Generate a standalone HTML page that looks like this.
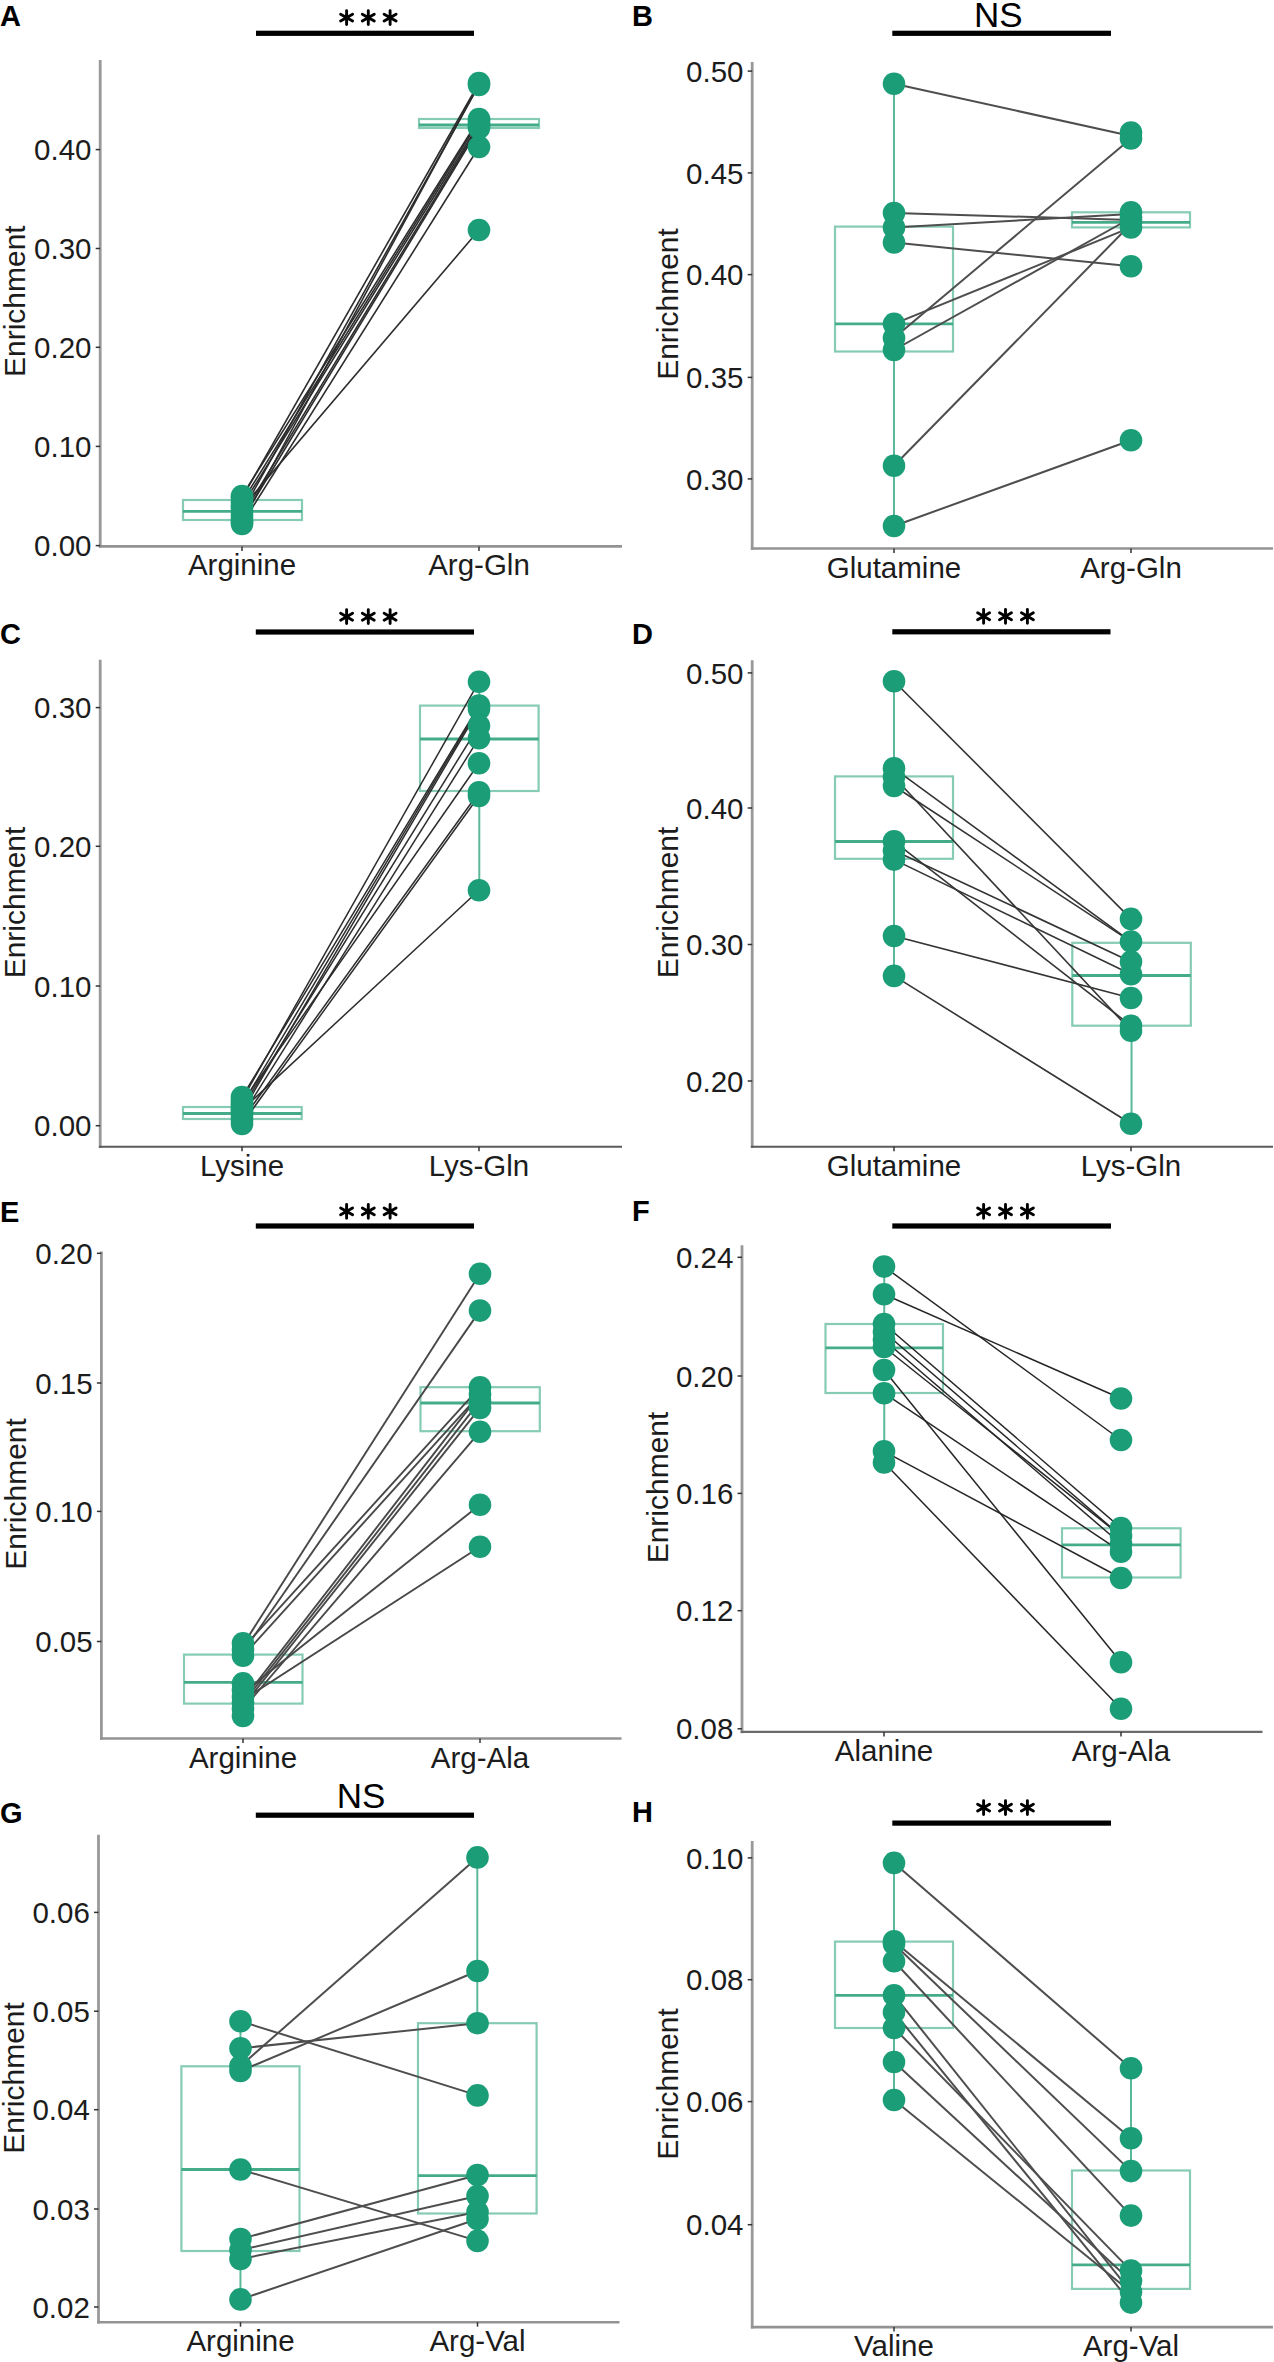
<!DOCTYPE html>
<html><head><meta charset="utf-8"><style>
html,body{margin:0;padding:0;background:#fff;overflow:hidden;}
svg{display:block;}
text{font-family:"Liberation Sans",sans-serif;fill:#1c1c1c;}
.lt{font-weight:bold;font-size:29px;fill:#000;}
.tk{font-size:29.5px;}
.tt{font-size:30px;}
.ns{font-size:35px;fill:#000;}
</style></head><body>
<svg width="1274" height="2362" viewBox="0 0 1274 2362">
<rect width="1274" height="2362" fill="#fff"/>
<text x="0" y="26" class="lt">A</text>
<rect x="256" y="30.699999999999996" width="218" height="5.2" fill="#000"/>
<path d="M346.60 10.70L346.60 24.50M340.62 14.15L352.58 21.05M340.62 21.05L352.58 14.15" stroke="#000" stroke-width="2.9" stroke-linecap="round" fill="none"/>
<path d="M368.30 10.70L368.30 24.50M362.32 14.15L374.28 21.05M362.32 21.05L374.28 14.15" stroke="#000" stroke-width="2.9" stroke-linecap="round" fill="none"/>
<path d="M390.10 10.70L390.10 24.50M384.12 14.15L396.08 21.05M384.12 21.05L396.08 14.15" stroke="#000" stroke-width="2.9" stroke-linecap="round" fill="none"/>
<rect x="183" y="500" width="119" height="20" fill="none" stroke="#86cbb5" stroke-width="2.2"/>
<line x1="183" y1="511.3" x2="302" y2="511.3" stroke="#45ac8a" stroke-width="2.8"/>
<rect x="419" y="119" width="120" height="9" fill="none" stroke="#86cbb5" stroke-width="2.2"/>
<line x1="419" y1="125" x2="539" y2="125" stroke="#45ac8a" stroke-width="2.8"/>
<line x1="100.2" y1="60" x2="100.2" y2="547.6999999999999" stroke="#999" stroke-width="2.8"/>
<line x1="98.9" y1="546.4" x2="622" y2="546.4" stroke="#939393" stroke-width="2.6"/>
<line x1="95.7" y1="545.6" x2="100.2" y2="545.6" stroke="#333" stroke-width="1.5"/>
<text x="91.5" y="556.2" class="tk" text-anchor="end">0.00</text>
<line x1="95.7" y1="446.4" x2="100.2" y2="446.4" stroke="#333" stroke-width="1.5"/>
<text x="91.5" y="457.0" class="tk" text-anchor="end">0.10</text>
<line x1="95.7" y1="347.3" x2="100.2" y2="347.3" stroke="#333" stroke-width="1.5"/>
<text x="91.5" y="357.90000000000003" class="tk" text-anchor="end">0.20</text>
<line x1="95.7" y1="248.5" x2="100.2" y2="248.5" stroke="#333" stroke-width="1.5"/>
<text x="91.5" y="259.1" class="tk" text-anchor="end">0.30</text>
<line x1="95.7" y1="149.6" x2="100.2" y2="149.6" stroke="#333" stroke-width="1.5"/>
<text x="91.5" y="160.2" class="tk" text-anchor="end">0.40</text>
<text transform="translate(25,301.2) rotate(-90)" class="tt" text-anchor="middle">Enrichment</text>
<line x1="242" y1="546.4" x2="242" y2="550.9" stroke="#333" stroke-width="1.5"/>
<text x="242" y="575.4" class="tk" text-anchor="middle">Arginine</text>
<line x1="479" y1="546.4" x2="479" y2="550.9" stroke="#333" stroke-width="1.5"/>
<text x="479" y="575.4" class="tk" text-anchor="middle">Arg-Gln</text>
<line x1="242" y1="498" x2="479" y2="83" stroke="#2c2c2c" stroke-width="1.6"/>
<line x1="242" y1="512" x2="479" y2="85" stroke="#2c2c2c" stroke-width="1.6"/>
<line x1="242" y1="522" x2="479" y2="84" stroke="#2c2c2c" stroke-width="1.6"/>
<line x1="242" y1="496" x2="479" y2="119" stroke="#2c2c2c" stroke-width="1.6"/>
<line x1="242" y1="502" x2="479" y2="121" stroke="#2c2c2c" stroke-width="1.6"/>
<line x1="242" y1="506" x2="479" y2="124" stroke="#2c2c2c" stroke-width="1.6"/>
<line x1="242" y1="516" x2="479" y2="126" stroke="#2c2c2c" stroke-width="1.6"/>
<line x1="242" y1="520" x2="479" y2="128" stroke="#2c2c2c" stroke-width="1.6"/>
<line x1="242" y1="524" x2="479" y2="147" stroke="#2c2c2c" stroke-width="1.6"/>
<line x1="242" y1="508" x2="479" y2="230" stroke="#2c2c2c" stroke-width="1.6"/>
<circle cx="242" cy="496" r="11.3" fill="#1B9E77"/>
<circle cx="242" cy="498" r="11.3" fill="#1B9E77"/>
<circle cx="242" cy="502" r="11.3" fill="#1B9E77"/>
<circle cx="242" cy="506" r="11.3" fill="#1B9E77"/>
<circle cx="242" cy="508" r="11.3" fill="#1B9E77"/>
<circle cx="242" cy="512" r="11.3" fill="#1B9E77"/>
<circle cx="242" cy="516" r="11.3" fill="#1B9E77"/>
<circle cx="242" cy="520" r="11.3" fill="#1B9E77"/>
<circle cx="242" cy="522" r="11.3" fill="#1B9E77"/>
<circle cx="242" cy="524" r="11.3" fill="#1B9E77"/>
<circle cx="479" cy="83" r="11.3" fill="#1B9E77"/>
<circle cx="479" cy="85" r="11.3" fill="#1B9E77"/>
<circle cx="479" cy="119" r="11.3" fill="#1B9E77"/>
<circle cx="479" cy="121" r="11.3" fill="#1B9E77"/>
<circle cx="479" cy="124" r="11.3" fill="#1B9E77"/>
<circle cx="479" cy="126" r="11.3" fill="#1B9E77"/>
<circle cx="479" cy="128" r="11.3" fill="#1B9E77"/>
<circle cx="479" cy="147" r="11.3" fill="#1B9E77"/>
<circle cx="479" cy="230" r="11.3" fill="#1B9E77"/>
<text x="632" y="25.7" class="lt">B</text>
<rect x="892.3" y="30.699999999999996" width="218.70000000000005" height="5.2" fill="#000"/>
<text x="998.2" y="27.3" class="ns" text-anchor="middle">NS</text>
<line x1="894.0" y1="83.7" x2="894.0" y2="226.6" stroke="#5bb89a" stroke-width="2"/>
<line x1="894.0" y1="351.5" x2="894.0" y2="526" stroke="#5bb89a" stroke-width="2"/>
<rect x="835" y="226.6" width="118" height="124.9" fill="none" stroke="#86cbb5" stroke-width="2.2"/>
<line x1="835" y1="323.9" x2="953" y2="323.9" stroke="#45ac8a" stroke-width="2.8"/>
<rect x="1072" y="212.3" width="118" height="15.099999999999994" fill="none" stroke="#86cbb5" stroke-width="2.2"/>
<line x1="1072" y1="222.4" x2="1190" y2="222.4" stroke="#45ac8a" stroke-width="2.8"/>
<line x1="752.2" y1="62" x2="752.2" y2="549.8" stroke="#999" stroke-width="2.8"/>
<line x1="750.9000000000001" y1="548.5" x2="1273" y2="548.5" stroke="#939393" stroke-width="2.6"/>
<line x1="747.7" y1="478.9" x2="752.2" y2="478.9" stroke="#333" stroke-width="1.5"/>
<text x="743.5" y="489.5" class="tk" text-anchor="end">0.30</text>
<line x1="747.7" y1="377.4" x2="752.2" y2="377.4" stroke="#333" stroke-width="1.5"/>
<text x="743.5" y="388.0" class="tk" text-anchor="end">0.35</text>
<line x1="747.7" y1="274.6" x2="752.2" y2="274.6" stroke="#333" stroke-width="1.5"/>
<text x="743.5" y="285.20000000000005" class="tk" text-anchor="end">0.40</text>
<line x1="747.7" y1="172.9" x2="752.2" y2="172.9" stroke="#333" stroke-width="1.5"/>
<text x="743.5" y="183.5" class="tk" text-anchor="end">0.45</text>
<line x1="747.7" y1="71.1" x2="752.2" y2="71.1" stroke="#333" stroke-width="1.5"/>
<text x="743.5" y="81.69999999999999" class="tk" text-anchor="end">0.50</text>
<text transform="translate(678,304) rotate(-90)" class="tt" text-anchor="middle">Enrichment</text>
<line x1="894" y1="548.5" x2="894" y2="553.0" stroke="#333" stroke-width="1.5"/>
<text x="894" y="577.5" class="tk" text-anchor="middle">Glutamine</text>
<line x1="1131" y1="548.5" x2="1131" y2="553.0" stroke="#333" stroke-width="1.5"/>
<text x="1131" y="577.5" class="tk" text-anchor="middle">Arg-Gln</text>
<line x1="894" y1="83.7" x2="1131" y2="136" stroke="#4e4e4e" stroke-width="2.0"/>
<line x1="894" y1="213" x2="1131" y2="220" stroke="#4e4e4e" stroke-width="2.0"/>
<line x1="894" y1="227.4" x2="1131" y2="214" stroke="#4e4e4e" stroke-width="2.0"/>
<line x1="894" y1="242.5" x2="1131" y2="266.3" stroke="#4e4e4e" stroke-width="2.0"/>
<line x1="894" y1="323.9" x2="1131" y2="227.4" stroke="#4e4e4e" stroke-width="2.0"/>
<line x1="894" y1="338" x2="1131" y2="138.5" stroke="#4e4e4e" stroke-width="2.0"/>
<line x1="894" y1="350" x2="1131" y2="218" stroke="#4e4e4e" stroke-width="2.0"/>
<line x1="894" y1="465.8" x2="1131" y2="224" stroke="#4e4e4e" stroke-width="2.0"/>
<line x1="894" y1="526" x2="1131" y2="440.2" stroke="#4e4e4e" stroke-width="2.0"/>
<circle cx="894" cy="83.7" r="11.3" fill="#1B9E77"/>
<circle cx="894" cy="213" r="11.3" fill="#1B9E77"/>
<circle cx="894" cy="227.4" r="11.3" fill="#1B9E77"/>
<circle cx="894" cy="242.5" r="11.3" fill="#1B9E77"/>
<circle cx="894" cy="323.9" r="11.3" fill="#1B9E77"/>
<circle cx="894" cy="338" r="11.3" fill="#1B9E77"/>
<circle cx="894" cy="350" r="11.3" fill="#1B9E77"/>
<circle cx="894" cy="465.8" r="11.3" fill="#1B9E77"/>
<circle cx="894" cy="526" r="11.3" fill="#1B9E77"/>
<circle cx="1131" cy="132.5" r="11.3" fill="#1B9E77"/>
<circle cx="1131" cy="138.5" r="11.3" fill="#1B9E77"/>
<circle cx="1131" cy="212.3" r="11.3" fill="#1B9E77"/>
<circle cx="1131" cy="218" r="11.3" fill="#1B9E77"/>
<circle cx="1131" cy="222" r="11.3" fill="#1B9E77"/>
<circle cx="1131" cy="227.4" r="11.3" fill="#1B9E77"/>
<circle cx="1131" cy="266.3" r="11.3" fill="#1B9E77"/>
<circle cx="1131" cy="440.2" r="11.3" fill="#1B9E77"/>
<text x="0" y="644" class="lt">C</text>
<rect x="255.8" y="629.4" width="218.2" height="5.2" fill="#000"/>
<path d="M346.60 609.80L346.60 623.60M340.62 613.25L352.58 620.15M340.62 620.15L352.58 613.25" stroke="#000" stroke-width="2.9" stroke-linecap="round" fill="none"/>
<path d="M368.30 609.80L368.30 623.60M362.32 613.25L374.28 620.15M362.32 620.15L374.28 613.25" stroke="#000" stroke-width="2.9" stroke-linecap="round" fill="none"/>
<path d="M390.10 609.80L390.10 623.60M384.12 613.25L396.08 620.15M384.12 620.15L396.08 613.25" stroke="#000" stroke-width="2.9" stroke-linecap="round" fill="none"/>
<rect x="183" y="1107" width="118.69999999999999" height="12" fill="none" stroke="#86cbb5" stroke-width="2.2"/>
<line x1="183" y1="1113.5" x2="301.7" y2="1113.5" stroke="#45ac8a" stroke-width="2.8"/>
<line x1="479.3" y1="681.7" x2="479.3" y2="705.6" stroke="#5bb89a" stroke-width="2"/>
<line x1="479.3" y1="791" x2="479.3" y2="890.2" stroke="#5bb89a" stroke-width="2"/>
<rect x="420" y="705.6" width="118.60000000000002" height="85.39999999999998" fill="none" stroke="#86cbb5" stroke-width="2.2"/>
<line x1="420" y1="739" x2="538.6" y2="739" stroke="#45ac8a" stroke-width="2.8"/>
<line x1="100.2" y1="659.8" x2="100.2" y2="1148.1" stroke="#999" stroke-width="2.8"/>
<line x1="98.9" y1="1146.8" x2="622" y2="1146.8" stroke="#5a5a5a" stroke-width="2.1"/>
<line x1="95.7" y1="1125.7" x2="100.2" y2="1125.7" stroke="#333" stroke-width="1.5"/>
<text x="91.5" y="1136.3" class="tk" text-anchor="end">0.00</text>
<line x1="95.7" y1="986" x2="100.2" y2="986" stroke="#333" stroke-width="1.5"/>
<text x="91.5" y="996.6" class="tk" text-anchor="end">0.10</text>
<line x1="95.7" y1="846.3" x2="100.2" y2="846.3" stroke="#333" stroke-width="1.5"/>
<text x="91.5" y="856.9" class="tk" text-anchor="end">0.20</text>
<line x1="95.7" y1="707.6" x2="100.2" y2="707.6" stroke="#333" stroke-width="1.5"/>
<text x="91.5" y="718.2" class="tk" text-anchor="end">0.30</text>
<text transform="translate(25,902.5) rotate(-90)" class="tt" text-anchor="middle">Enrichment</text>
<line x1="242" y1="1146.8" x2="242" y2="1151.3" stroke="#333" stroke-width="1.5"/>
<text x="242" y="1175.8" class="tk" text-anchor="middle">Lysine</text>
<line x1="479" y1="1146.8" x2="479" y2="1151.3" stroke="#333" stroke-width="1.5"/>
<text x="479" y="1175.8" class="tk" text-anchor="middle">Lys-Gln</text>
<line x1="242" y1="1100" x2="479" y2="681.7" stroke="#2c2c2c" stroke-width="1.5"/>
<line x1="242" y1="1097" x2="479" y2="705.6" stroke="#2c2c2c" stroke-width="1.5"/>
<line x1="242" y1="1105" x2="479" y2="707" stroke="#2c2c2c" stroke-width="1.5"/>
<line x1="242" y1="1112" x2="479" y2="709" stroke="#2c2c2c" stroke-width="1.5"/>
<line x1="242" y1="1108" x2="479" y2="725.7" stroke="#2c2c2c" stroke-width="1.5"/>
<line x1="242" y1="1116" x2="479" y2="738.2" stroke="#2c2c2c" stroke-width="1.5"/>
<line x1="242" y1="1103" x2="479" y2="763.3" stroke="#2c2c2c" stroke-width="1.5"/>
<line x1="242" y1="1120" x2="479" y2="792.2" stroke="#2c2c2c" stroke-width="1.5"/>
<line x1="242" y1="1124" x2="479" y2="796" stroke="#2c2c2c" stroke-width="1.5"/>
<line x1="242" y1="1110" x2="479" y2="890.2" stroke="#2c2c2c" stroke-width="1.5"/>
<circle cx="242" cy="1097" r="11.3" fill="#1B9E77"/>
<circle cx="242" cy="1100" r="11.3" fill="#1B9E77"/>
<circle cx="242" cy="1103" r="11.3" fill="#1B9E77"/>
<circle cx="242" cy="1105" r="11.3" fill="#1B9E77"/>
<circle cx="242" cy="1108" r="11.3" fill="#1B9E77"/>
<circle cx="242" cy="1110" r="11.3" fill="#1B9E77"/>
<circle cx="242" cy="1112" r="11.3" fill="#1B9E77"/>
<circle cx="242" cy="1116" r="11.3" fill="#1B9E77"/>
<circle cx="242" cy="1120" r="11.3" fill="#1B9E77"/>
<circle cx="242" cy="1124" r="11.3" fill="#1B9E77"/>
<circle cx="479" cy="681.7" r="11.3" fill="#1B9E77"/>
<circle cx="479" cy="705.6" r="11.3" fill="#1B9E77"/>
<circle cx="479" cy="709" r="11.3" fill="#1B9E77"/>
<circle cx="479" cy="725.7" r="11.3" fill="#1B9E77"/>
<circle cx="479" cy="738.2" r="11.3" fill="#1B9E77"/>
<circle cx="479" cy="763.3" r="11.3" fill="#1B9E77"/>
<circle cx="479" cy="792.2" r="11.3" fill="#1B9E77"/>
<circle cx="479" cy="796" r="11.3" fill="#1B9E77"/>
<circle cx="479" cy="890.2" r="11.3" fill="#1B9E77"/>
<text x="632" y="643.5" class="lt">D</text>
<rect x="892.3" y="629.1999999999999" width="218.20000000000005" height="5.2" fill="#000"/>
<path d="M983.60 609.40L983.60 623.20M977.62 612.85L989.58 619.75M977.62 619.75L989.58 612.85" stroke="#000" stroke-width="2.9" stroke-linecap="round" fill="none"/>
<path d="M1005.50 609.40L1005.50 623.20M999.52 612.85L1011.48 619.75M999.52 619.75L1011.48 612.85" stroke="#000" stroke-width="2.9" stroke-linecap="round" fill="none"/>
<path d="M1027.40 609.40L1027.40 623.20M1021.42 612.85L1033.38 619.75M1021.42 619.75L1033.38 612.85" stroke="#000" stroke-width="2.9" stroke-linecap="round" fill="none"/>
<line x1="894.0" y1="681.2" x2="894.0" y2="776.4" stroke="#5bb89a" stroke-width="2"/>
<line x1="894.0" y1="858.8" x2="894.0" y2="975.9" stroke="#5bb89a" stroke-width="2"/>
<rect x="835" y="776.4" width="118" height="82.39999999999998" fill="none" stroke="#86cbb5" stroke-width="2.2"/>
<line x1="835" y1="841.5" x2="953" y2="841.5" stroke="#45ac8a" stroke-width="2.8"/>
<line x1="1131.55" y1="918.9" x2="1131.55" y2="942.8" stroke="#5bb89a" stroke-width="2"/>
<line x1="1131.55" y1="1025.7" x2="1131.55" y2="1123.7" stroke="#5bb89a" stroke-width="2"/>
<rect x="1072.3" y="942.8" width="118.5" height="82.90000000000009" fill="none" stroke="#86cbb5" stroke-width="2.2"/>
<line x1="1072.3" y1="975.5" x2="1190.8" y2="975.5" stroke="#45ac8a" stroke-width="2.8"/>
<line x1="752.2" y1="660.3" x2="752.2" y2="1148.1" stroke="#999" stroke-width="2.8"/>
<line x1="750.9000000000001" y1="1146.8" x2="1273" y2="1146.8" stroke="#5a5a5a" stroke-width="2.1"/>
<line x1="747.7" y1="1081" x2="752.2" y2="1081" stroke="#333" stroke-width="1.5"/>
<text x="743.5" y="1091.6" class="tk" text-anchor="end">0.20</text>
<line x1="747.7" y1="944.5" x2="752.2" y2="944.5" stroke="#333" stroke-width="1.5"/>
<text x="743.5" y="955.1" class="tk" text-anchor="end">0.30</text>
<line x1="747.7" y1="808" x2="752.2" y2="808" stroke="#333" stroke-width="1.5"/>
<text x="743.5" y="818.6" class="tk" text-anchor="end">0.40</text>
<line x1="747.7" y1="672.9" x2="752.2" y2="672.9" stroke="#333" stroke-width="1.5"/>
<text x="743.5" y="683.5" class="tk" text-anchor="end">0.50</text>
<text transform="translate(678,902.5) rotate(-90)" class="tt" text-anchor="middle">Enrichment</text>
<line x1="894" y1="1146.8" x2="894" y2="1151.3" stroke="#333" stroke-width="1.5"/>
<text x="894" y="1175.8" class="tk" text-anchor="middle">Glutamine</text>
<line x1="1131" y1="1146.8" x2="1131" y2="1151.3" stroke="#333" stroke-width="1.5"/>
<text x="1131" y="1175.8" class="tk" text-anchor="middle">Lys-Gln</text>
<line x1="894" y1="681.2" x2="1131" y2="918.9" stroke="#343434" stroke-width="1.6"/>
<line x1="894" y1="768.3" x2="1131" y2="941.6" stroke="#343434" stroke-width="1.6"/>
<line x1="894" y1="777" x2="1131" y2="1030.8" stroke="#343434" stroke-width="1.6"/>
<line x1="894" y1="786" x2="1131" y2="941.6" stroke="#343434" stroke-width="1.6"/>
<line x1="894" y1="841.3" x2="1131" y2="1025.7" stroke="#343434" stroke-width="1.6"/>
<line x1="894" y1="850.5" x2="1131" y2="961.7" stroke="#343434" stroke-width="1.6"/>
<line x1="894" y1="859.6" x2="1131" y2="974.2" stroke="#343434" stroke-width="1.6"/>
<line x1="894" y1="936" x2="1131" y2="998" stroke="#343434" stroke-width="1.6"/>
<line x1="894" y1="975.9" x2="1131" y2="1123.7" stroke="#343434" stroke-width="1.6"/>
<circle cx="894" cy="681.2" r="11.3" fill="#1B9E77"/>
<circle cx="894" cy="768.3" r="11.3" fill="#1B9E77"/>
<circle cx="894" cy="777" r="11.3" fill="#1B9E77"/>
<circle cx="894" cy="786" r="11.3" fill="#1B9E77"/>
<circle cx="894" cy="841.3" r="11.3" fill="#1B9E77"/>
<circle cx="894" cy="850.5" r="11.3" fill="#1B9E77"/>
<circle cx="894" cy="859.6" r="11.3" fill="#1B9E77"/>
<circle cx="894" cy="936" r="11.3" fill="#1B9E77"/>
<circle cx="894" cy="975.9" r="11.3" fill="#1B9E77"/>
<circle cx="1131" cy="918.9" r="11.3" fill="#1B9E77"/>
<circle cx="1131" cy="941.6" r="11.3" fill="#1B9E77"/>
<circle cx="1131" cy="961.7" r="11.3" fill="#1B9E77"/>
<circle cx="1131" cy="974.2" r="11.3" fill="#1B9E77"/>
<circle cx="1131" cy="998" r="11.3" fill="#1B9E77"/>
<circle cx="1131" cy="1025.7" r="11.3" fill="#1B9E77"/>
<circle cx="1131" cy="1030.8" r="11.3" fill="#1B9E77"/>
<circle cx="1131" cy="1123.7" r="11.3" fill="#1B9E77"/>
<text x="0" y="1222" class="lt">E</text>
<rect x="255.8" y="1223.4" width="218.2" height="5.2" fill="#000"/>
<path d="M346.60 1204.50L346.60 1218.30M340.62 1207.95L352.58 1214.85M340.62 1214.85L352.58 1207.95" stroke="#000" stroke-width="2.9" stroke-linecap="round" fill="none"/>
<path d="M368.30 1204.50L368.30 1218.30M362.32 1207.95L374.28 1214.85M362.32 1214.85L374.28 1207.95" stroke="#000" stroke-width="2.9" stroke-linecap="round" fill="none"/>
<path d="M390.10 1204.50L390.10 1218.30M384.12 1207.95L396.08 1214.85M384.12 1214.85L396.08 1207.95" stroke="#000" stroke-width="2.9" stroke-linecap="round" fill="none"/>
<rect x="184" y="1654.6" width="118.5" height="49.0" fill="none" stroke="#86cbb5" stroke-width="2.2"/>
<line x1="184" y1="1682.3" x2="302.5" y2="1682.3" stroke="#45ac8a" stroke-width="2.8"/>
<rect x="420.5" y="1387.2" width="119.29999999999995" height="44.0" fill="none" stroke="#86cbb5" stroke-width="2.2"/>
<line x1="420.5" y1="1403" x2="539.8" y2="1403" stroke="#45ac8a" stroke-width="2.8"/>
<line x1="101.4" y1="1251.6" x2="101.4" y2="1739.8" stroke="#999" stroke-width="2.8"/>
<line x1="100.10000000000001" y1="1738.5" x2="621.5" y2="1738.5" stroke="#939393" stroke-width="2.6"/>
<line x1="96.9" y1="1641.5" x2="101.4" y2="1641.5" stroke="#333" stroke-width="1.5"/>
<text x="92.7" y="1652.1" class="tk" text-anchor="end">0.05</text>
<line x1="96.9" y1="1511.4" x2="101.4" y2="1511.4" stroke="#333" stroke-width="1.5"/>
<text x="92.7" y="1522.0" class="tk" text-anchor="end">0.10</text>
<line x1="96.9" y1="1383" x2="101.4" y2="1383" stroke="#333" stroke-width="1.5"/>
<text x="92.7" y="1393.6" class="tk" text-anchor="end">0.15</text>
<line x1="96.9" y1="1253.3" x2="101.4" y2="1253.3" stroke="#333" stroke-width="1.5"/>
<text x="92.7" y="1263.8999999999999" class="tk" text-anchor="end">0.20</text>
<text transform="translate(26,1494) rotate(-90)" class="tt" text-anchor="middle">Enrichment</text>
<line x1="243" y1="1738.5" x2="243" y2="1743.0" stroke="#333" stroke-width="1.5"/>
<text x="243" y="1767.5" class="tk" text-anchor="middle">Arginine</text>
<line x1="480" y1="1738.5" x2="480" y2="1743.0" stroke="#333" stroke-width="1.5"/>
<text x="480" y="1767.5" class="tk" text-anchor="middle">Arg-Ala</text>
<line x1="243" y1="1645" x2="480" y2="1273.7" stroke="#484848" stroke-width="1.9"/>
<line x1="243" y1="1652" x2="480" y2="1310.6" stroke="#484848" stroke-width="1.9"/>
<line x1="243" y1="1648" x2="480" y2="1387.2" stroke="#484848" stroke-width="1.9"/>
<line x1="243" y1="1656" x2="480" y2="1394.2" stroke="#484848" stroke-width="1.9"/>
<line x1="243" y1="1700" x2="480" y2="1394.2" stroke="#484848" stroke-width="1.9"/>
<line x1="243" y1="1703" x2="480" y2="1401.2" stroke="#484848" stroke-width="1.9"/>
<line x1="243" y1="1706" x2="480" y2="1407.9" stroke="#484848" stroke-width="1.9"/>
<line x1="243" y1="1709" x2="480" y2="1431.7" stroke="#484848" stroke-width="1.9"/>
<line x1="243" y1="1693" x2="480" y2="1504.7" stroke="#484848" stroke-width="1.9"/>
<line x1="243" y1="1700" x2="480" y2="1546.7" stroke="#484848" stroke-width="1.9"/>
<circle cx="243" cy="1643.3" r="11.3" fill="#1B9E77"/>
<circle cx="243" cy="1649.5" r="11.3" fill="#1B9E77"/>
<circle cx="243" cy="1655.7" r="11.3" fill="#1B9E77"/>
<circle cx="243" cy="1683.4" r="11.3" fill="#1B9E77"/>
<circle cx="243" cy="1690" r="11.3" fill="#1B9E77"/>
<circle cx="243" cy="1697" r="11.3" fill="#1B9E77"/>
<circle cx="243" cy="1703" r="11.3" fill="#1B9E77"/>
<circle cx="243" cy="1709" r="11.3" fill="#1B9E77"/>
<circle cx="243" cy="1716" r="11.3" fill="#1B9E77"/>
<circle cx="480" cy="1273.7" r="11.3" fill="#1B9E77"/>
<circle cx="480" cy="1310.6" r="11.3" fill="#1B9E77"/>
<circle cx="480" cy="1387.2" r="11.3" fill="#1B9E77"/>
<circle cx="480" cy="1394.2" r="11.3" fill="#1B9E77"/>
<circle cx="480" cy="1401.2" r="11.3" fill="#1B9E77"/>
<circle cx="480" cy="1407.9" r="11.3" fill="#1B9E77"/>
<circle cx="480" cy="1431.7" r="11.3" fill="#1B9E77"/>
<circle cx="480" cy="1504.7" r="11.3" fill="#1B9E77"/>
<circle cx="480" cy="1546.7" r="11.3" fill="#1B9E77"/>
<text x="632" y="1221.4" class="lt">F</text>
<rect x="892.3" y="1223.4" width="218.70000000000005" height="5.2" fill="#000"/>
<path d="M983.60 1204.50L983.60 1218.30M977.62 1207.95L989.58 1214.85M977.62 1214.85L989.58 1207.95" stroke="#000" stroke-width="2.9" stroke-linecap="round" fill="none"/>
<path d="M1005.50 1204.50L1005.50 1218.30M999.52 1207.95L1011.48 1214.85M999.52 1214.85L1011.48 1207.95" stroke="#000" stroke-width="2.9" stroke-linecap="round" fill="none"/>
<path d="M1027.40 1204.50L1027.40 1218.30M1021.42 1207.95L1033.38 1214.85M1021.42 1214.85L1033.38 1207.95" stroke="#000" stroke-width="2.9" stroke-linecap="round" fill="none"/>
<line x1="884.25" y1="1266.6" x2="884.25" y2="1324" stroke="#5bb89a" stroke-width="2"/>
<line x1="884.25" y1="1393" x2="884.25" y2="1462.5" stroke="#5bb89a" stroke-width="2"/>
<rect x="825.5" y="1324" width="117.5" height="69" fill="none" stroke="#86cbb5" stroke-width="2.2"/>
<line x1="825.5" y1="1347.8" x2="943" y2="1347.8" stroke="#45ac8a" stroke-width="2.8"/>
<rect x="1062" y="1528.3" width="118.59999999999991" height="49.200000000000045" fill="none" stroke="#86cbb5" stroke-width="2.2"/>
<line x1="1062" y1="1544.9" x2="1180.6" y2="1544.9" stroke="#45ac8a" stroke-width="2.8"/>
<line x1="742" y1="1245.3" x2="742" y2="1733.2" stroke="#999" stroke-width="2.8"/>
<line x1="740.7" y1="1731.9" x2="1262.5" y2="1731.9" stroke="#6a6a6a" stroke-width="2.1"/>
<line x1="737.5" y1="1728.8" x2="742" y2="1728.8" stroke="#333" stroke-width="1.5"/>
<text x="733.3" y="1739.3999999999999" class="tk" text-anchor="end">0.08</text>
<line x1="737.5" y1="1610.7" x2="742" y2="1610.7" stroke="#333" stroke-width="1.5"/>
<text x="733.3" y="1621.3" class="tk" text-anchor="end">0.12</text>
<line x1="737.5" y1="1493.4" x2="742" y2="1493.4" stroke="#333" stroke-width="1.5"/>
<text x="733.3" y="1504.0" class="tk" text-anchor="end">0.16</text>
<line x1="737.5" y1="1376" x2="742" y2="1376" stroke="#333" stroke-width="1.5"/>
<text x="733.3" y="1386.6" class="tk" text-anchor="end">0.20</text>
<line x1="737.5" y1="1257.3" x2="742" y2="1257.3" stroke="#333" stroke-width="1.5"/>
<text x="733.3" y="1267.8999999999999" class="tk" text-anchor="end">0.24</text>
<text transform="translate(668,1487.5) rotate(-90)" class="tt" text-anchor="middle">Enrichment</text>
<line x1="884" y1="1731.9" x2="884" y2="1736.4" stroke="#333" stroke-width="1.5"/>
<text x="884" y="1760.9" class="tk" text-anchor="middle">Alanine</text>
<line x1="1121" y1="1731.9" x2="1121" y2="1736.4" stroke="#333" stroke-width="1.5"/>
<text x="1121" y="1760.9" class="tk" text-anchor="middle">Arg-Ala</text>
<line x1="884" y1="1266.6" x2="1121" y2="1440" stroke="#262626" stroke-width="1.5"/>
<line x1="884" y1="1294.3" x2="1121" y2="1398.5" stroke="#262626" stroke-width="1.5"/>
<line x1="884" y1="1324" x2="1121" y2="1528" stroke="#262626" stroke-width="1.5"/>
<line x1="884" y1="1332" x2="1121" y2="1536" stroke="#262626" stroke-width="1.5"/>
<line x1="884" y1="1340" x2="1121" y2="1544" stroke="#262626" stroke-width="1.5"/>
<line x1="884" y1="1347" x2="1121" y2="1536" stroke="#262626" stroke-width="1.5"/>
<line x1="884" y1="1370" x2="1121" y2="1662.2" stroke="#262626" stroke-width="1.5"/>
<line x1="884" y1="1393.2" x2="1121" y2="1551.7" stroke="#262626" stroke-width="1.5"/>
<line x1="884" y1="1451.3" x2="1121" y2="1578" stroke="#262626" stroke-width="1.5"/>
<line x1="884" y1="1462.5" x2="1121" y2="1708.7" stroke="#262626" stroke-width="1.5"/>
<circle cx="884" cy="1266.6" r="11.3" fill="#1B9E77"/>
<circle cx="884" cy="1294.3" r="11.3" fill="#1B9E77"/>
<circle cx="884" cy="1324" r="11.3" fill="#1B9E77"/>
<circle cx="884" cy="1332" r="11.3" fill="#1B9E77"/>
<circle cx="884" cy="1340" r="11.3" fill="#1B9E77"/>
<circle cx="884" cy="1347" r="11.3" fill="#1B9E77"/>
<circle cx="884" cy="1370" r="11.3" fill="#1B9E77"/>
<circle cx="884" cy="1393.2" r="11.3" fill="#1B9E77"/>
<circle cx="884" cy="1451.3" r="11.3" fill="#1B9E77"/>
<circle cx="884" cy="1462.5" r="11.3" fill="#1B9E77"/>
<circle cx="1121" cy="1398.5" r="11.3" fill="#1B9E77"/>
<circle cx="1121" cy="1440" r="11.3" fill="#1B9E77"/>
<circle cx="1121" cy="1528" r="11.3" fill="#1B9E77"/>
<circle cx="1121" cy="1536" r="11.3" fill="#1B9E77"/>
<circle cx="1121" cy="1544" r="11.3" fill="#1B9E77"/>
<circle cx="1121" cy="1551.7" r="11.3" fill="#1B9E77"/>
<circle cx="1121" cy="1578" r="11.3" fill="#1B9E77"/>
<circle cx="1121" cy="1662.2" r="11.3" fill="#1B9E77"/>
<circle cx="1121" cy="1708.7" r="11.3" fill="#1B9E77"/>
<text x="0" y="1822.7" class="lt">G</text>
<rect x="255.8" y="1812.6000000000001" width="218.2" height="5.2" fill="#000"/>
<text x="361" y="1808.1" class="ns" text-anchor="middle">NS</text>
<line x1="240.45" y1="2021.2" x2="240.45" y2="2066.3" stroke="#5bb89a" stroke-width="2"/>
<line x1="240.45" y1="2251" x2="240.45" y2="2299.4" stroke="#5bb89a" stroke-width="2"/>
<rect x="181.4" y="2066.3" width="118.1" height="184.69999999999982" fill="none" stroke="#86cbb5" stroke-width="2.2"/>
<line x1="181.4" y1="2169.5" x2="299.5" y2="2169.5" stroke="#45ac8a" stroke-width="2.8"/>
<line x1="477.3" y1="1857.4" x2="477.3" y2="2023.2" stroke="#5bb89a" stroke-width="2"/>
<line x1="477.3" y1="2213.5" x2="477.3" y2="2240.9" stroke="#5bb89a" stroke-width="2"/>
<rect x="418" y="2023.2" width="118.60000000000002" height="190.29999999999995" fill="none" stroke="#86cbb5" stroke-width="2.2"/>
<line x1="418" y1="2175.6" x2="536.6" y2="2175.6" stroke="#45ac8a" stroke-width="2.8"/>
<line x1="98.5" y1="1834.8" x2="98.5" y2="2323.5" stroke="#999" stroke-width="2.8"/>
<line x1="97.2" y1="2322.2" x2="619.5" y2="2322.2" stroke="#939393" stroke-width="2.6"/>
<line x1="94.0" y1="2307" x2="98.5" y2="2307" stroke="#333" stroke-width="1.5"/>
<text x="89.8" y="2317.6" class="tk" text-anchor="end">0.02</text>
<line x1="94.0" y1="2209" x2="98.5" y2="2209" stroke="#333" stroke-width="1.5"/>
<text x="89.8" y="2219.6" class="tk" text-anchor="end">0.03</text>
<line x1="94.0" y1="2109.7" x2="98.5" y2="2109.7" stroke="#333" stroke-width="1.5"/>
<text x="89.8" y="2120.2999999999997" class="tk" text-anchor="end">0.04</text>
<line x1="94.0" y1="2011.2" x2="98.5" y2="2011.2" stroke="#333" stroke-width="1.5"/>
<text x="89.8" y="2021.8" class="tk" text-anchor="end">0.05</text>
<line x1="94.0" y1="1912.4" x2="98.5" y2="1912.4" stroke="#333" stroke-width="1.5"/>
<text x="89.8" y="1923.0" class="tk" text-anchor="end">0.06</text>
<text transform="translate(24,2078) rotate(-90)" class="tt" text-anchor="middle">Enrichment</text>
<line x1="240.5" y1="2322.2" x2="240.5" y2="2326.7" stroke="#333" stroke-width="1.5"/>
<text x="240.5" y="2351.2" class="tk" text-anchor="middle">Arginine</text>
<line x1="477.5" y1="2322.2" x2="477.5" y2="2326.7" stroke="#333" stroke-width="1.5"/>
<text x="477.5" y="2351.2" class="tk" text-anchor="middle">Arg-Val</text>
<line x1="240.5" y1="2021.2" x2="477.5" y2="2095.4" stroke="#4e4e4e" stroke-width="2.0"/>
<line x1="240.5" y1="2048.3" x2="477.5" y2="2023.2" stroke="#4e4e4e" stroke-width="2.0"/>
<line x1="240.5" y1="2066" x2="477.5" y2="1857.4" stroke="#4e4e4e" stroke-width="2.0"/>
<line x1="240.5" y1="2071" x2="477.5" y2="1971" stroke="#4e4e4e" stroke-width="2.0"/>
<line x1="240.5" y1="2169.5" x2="477.5" y2="2240.9" stroke="#4e4e4e" stroke-width="2.0"/>
<line x1="240.5" y1="2239" x2="477.5" y2="2175" stroke="#4e4e4e" stroke-width="2.0"/>
<line x1="240.5" y1="2250" x2="477.5" y2="2196" stroke="#4e4e4e" stroke-width="2.0"/>
<line x1="240.5" y1="2259" x2="477.5" y2="2212" stroke="#4e4e4e" stroke-width="2.0"/>
<line x1="240.5" y1="2299.4" x2="477.5" y2="2219" stroke="#4e4e4e" stroke-width="2.0"/>
<circle cx="240.5" cy="2021.2" r="11.3" fill="#1B9E77"/>
<circle cx="240.5" cy="2048.3" r="11.3" fill="#1B9E77"/>
<circle cx="240.5" cy="2066" r="11.3" fill="#1B9E77"/>
<circle cx="240.5" cy="2071" r="11.3" fill="#1B9E77"/>
<circle cx="240.5" cy="2169.5" r="11.3" fill="#1B9E77"/>
<circle cx="240.5" cy="2239" r="11.3" fill="#1B9E77"/>
<circle cx="240.5" cy="2250" r="11.3" fill="#1B9E77"/>
<circle cx="240.5" cy="2259" r="11.3" fill="#1B9E77"/>
<circle cx="240.5" cy="2299.4" r="11.3" fill="#1B9E77"/>
<circle cx="477.5" cy="1857.4" r="11.3" fill="#1B9E77"/>
<circle cx="477.5" cy="1971" r="11.3" fill="#1B9E77"/>
<circle cx="477.5" cy="2023.2" r="11.3" fill="#1B9E77"/>
<circle cx="477.5" cy="2095.4" r="11.3" fill="#1B9E77"/>
<circle cx="477.5" cy="2175" r="11.3" fill="#1B9E77"/>
<circle cx="477.5" cy="2196" r="11.3" fill="#1B9E77"/>
<circle cx="477.5" cy="2212" r="11.3" fill="#1B9E77"/>
<circle cx="477.5" cy="2219" r="11.3" fill="#1B9E77"/>
<circle cx="477.5" cy="2240.9" r="11.3" fill="#1B9E77"/>
<text x="632" y="1822.2" class="lt">H</text>
<rect x="892.3" y="1820.5" width="218.70000000000005" height="5.2" fill="#000"/>
<path d="M983.60 1800.70L983.60 1814.50M977.62 1804.15L989.58 1811.05M977.62 1811.05L989.58 1804.15" stroke="#000" stroke-width="2.9" stroke-linecap="round" fill="none"/>
<path d="M1005.50 1800.70L1005.50 1814.50M999.52 1804.15L1011.48 1811.05M999.52 1811.05L1011.48 1804.15" stroke="#000" stroke-width="2.9" stroke-linecap="round" fill="none"/>
<path d="M1027.40 1800.70L1027.40 1814.50M1021.42 1804.15L1033.38 1811.05M1021.42 1811.05L1033.38 1804.15" stroke="#000" stroke-width="2.9" stroke-linecap="round" fill="none"/>
<line x1="894.0" y1="1862.9" x2="894.0" y2="1941.6" stroke="#5bb89a" stroke-width="2"/>
<line x1="894.0" y1="2028" x2="894.0" y2="2100" stroke="#5bb89a" stroke-width="2"/>
<rect x="835" y="1941.6" width="118" height="86.40000000000009" fill="none" stroke="#86cbb5" stroke-width="2.2"/>
<line x1="835" y1="1995.3" x2="953" y2="1995.3" stroke="#45ac8a" stroke-width="2.8"/>
<line x1="1131.0" y1="2068.3" x2="1131.0" y2="2170.5" stroke="#5bb89a" stroke-width="2"/>
<line x1="1131.0" y1="2288.9" x2="1131.0" y2="2304.5" stroke="#5bb89a" stroke-width="2"/>
<rect x="1072" y="2170.5" width="118" height="118.40000000000009" fill="none" stroke="#86cbb5" stroke-width="2.2"/>
<line x1="1072" y1="2264.8" x2="1190" y2="2264.8" stroke="#45ac8a" stroke-width="2.8"/>
<line x1="752.2" y1="1841" x2="752.2" y2="2328.4" stroke="#999" stroke-width="2.8"/>
<line x1="750.9000000000001" y1="2327.1" x2="1273" y2="2327.1" stroke="#939393" stroke-width="2.6"/>
<line x1="747.7" y1="2224.7" x2="752.2" y2="2224.7" stroke="#333" stroke-width="1.5"/>
<text x="743.5" y="2235.2999999999997" class="tk" text-anchor="end">0.04</text>
<line x1="747.7" y1="2101.6" x2="752.2" y2="2101.6" stroke="#333" stroke-width="1.5"/>
<text x="743.5" y="2112.2" class="tk" text-anchor="end">0.06</text>
<line x1="747.7" y1="1979.7" x2="752.2" y2="1979.7" stroke="#333" stroke-width="1.5"/>
<text x="743.5" y="1990.3" class="tk" text-anchor="end">0.08</text>
<line x1="747.7" y1="1857.9" x2="752.2" y2="1857.9" stroke="#333" stroke-width="1.5"/>
<text x="743.5" y="1868.5" class="tk" text-anchor="end">0.10</text>
<text transform="translate(678,2084) rotate(-90)" class="tt" text-anchor="middle">Enrichment</text>
<line x1="894" y1="2327.1" x2="894" y2="2331.6" stroke="#333" stroke-width="1.5"/>
<text x="894" y="2356.1" class="tk" text-anchor="middle">Valine</text>
<line x1="1131" y1="2327.1" x2="1131" y2="2331.6" stroke="#333" stroke-width="1.5"/>
<text x="1131" y="2356.1" class="tk" text-anchor="middle">Arg-Val</text>
<line x1="894" y1="1862.9" x2="1131" y2="2068.3" stroke="#4e4e4e" stroke-width="2.0"/>
<line x1="894" y1="1941.2" x2="1131" y2="2138.3" stroke="#4e4e4e" stroke-width="2.0"/>
<line x1="894" y1="1944" x2="1131" y2="2171.1" stroke="#4e4e4e" stroke-width="2.0"/>
<line x1="894" y1="1961.3" x2="1131" y2="2215.6" stroke="#4e4e4e" stroke-width="2.0"/>
<line x1="894" y1="1995.2" x2="1131" y2="2292" stroke="#4e4e4e" stroke-width="2.0"/>
<line x1="894" y1="2012.2" x2="1131" y2="2302.6" stroke="#4e4e4e" stroke-width="2.0"/>
<line x1="894" y1="2028" x2="1131" y2="2270.6" stroke="#4e4e4e" stroke-width="2.0"/>
<line x1="894" y1="2062" x2="1131" y2="2281" stroke="#4e4e4e" stroke-width="2.0"/>
<line x1="894" y1="2100" x2="1131" y2="2292" stroke="#4e4e4e" stroke-width="2.0"/>
<circle cx="894" cy="1862.9" r="11.3" fill="#1B9E77"/>
<circle cx="894" cy="1941.2" r="11.3" fill="#1B9E77"/>
<circle cx="894" cy="1944" r="11.3" fill="#1B9E77"/>
<circle cx="894" cy="1961.3" r="11.3" fill="#1B9E77"/>
<circle cx="894" cy="1995.2" r="11.3" fill="#1B9E77"/>
<circle cx="894" cy="2012.2" r="11.3" fill="#1B9E77"/>
<circle cx="894" cy="2028" r="11.3" fill="#1B9E77"/>
<circle cx="894" cy="2062" r="11.3" fill="#1B9E77"/>
<circle cx="894" cy="2100" r="11.3" fill="#1B9E77"/>
<circle cx="1131" cy="2068.3" r="11.3" fill="#1B9E77"/>
<circle cx="1131" cy="2138.3" r="11.3" fill="#1B9E77"/>
<circle cx="1131" cy="2171.1" r="11.3" fill="#1B9E77"/>
<circle cx="1131" cy="2215.6" r="11.3" fill="#1B9E77"/>
<circle cx="1131" cy="2270.6" r="11.3" fill="#1B9E77"/>
<circle cx="1131" cy="2281" r="11.3" fill="#1B9E77"/>
<circle cx="1131" cy="2292" r="11.3" fill="#1B9E77"/>
<circle cx="1131" cy="2302.6" r="11.3" fill="#1B9E77"/>
</svg></body></html>
